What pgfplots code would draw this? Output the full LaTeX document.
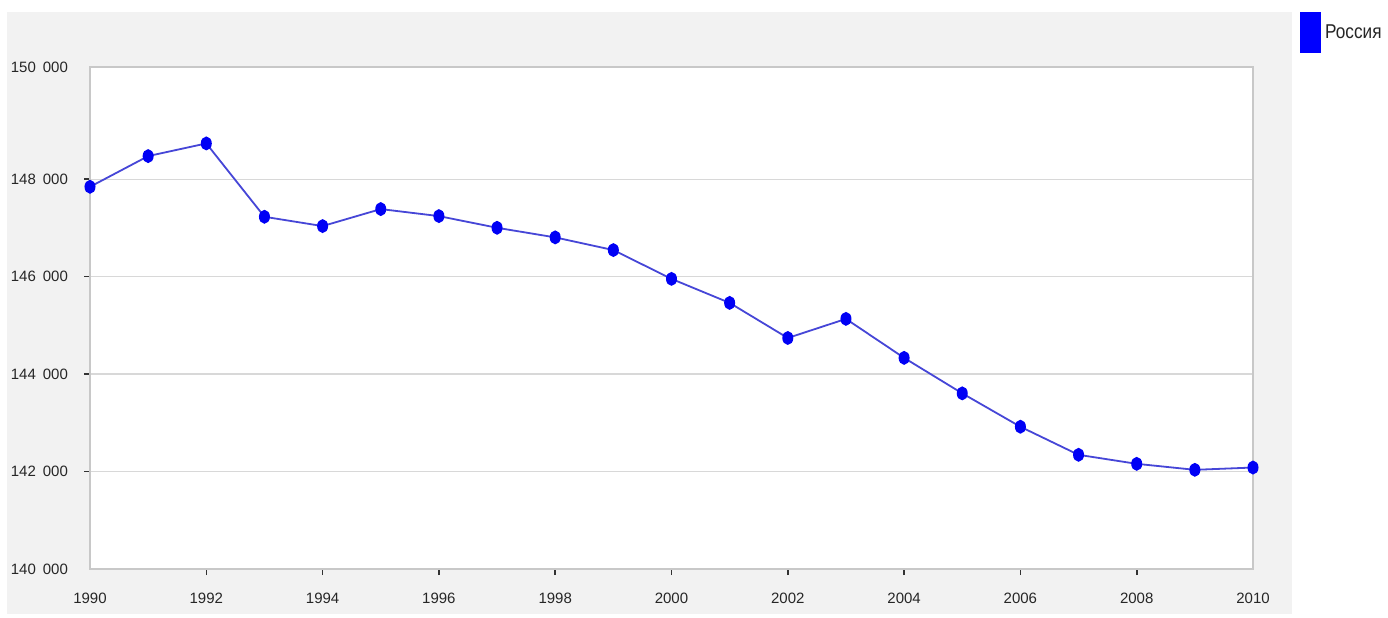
\documentclass[border=0pt]{standalone}
\usepackage{fontspec}
\setmainfont{Liberation Sans}
\usepackage{graphicx}
\usepackage{pgfplots}
\pgfplotsset{compat=1.18}
\definecolor{bgpanel}{RGB}{242,242,242}
\definecolor{borderc}{RGB}{200,200,200}
\definecolor{gridc}{RGB}{216,216,216}
\definecolor{linec}{RGB}{70,70,215}
\definecolor{markc}{RGB}{0,0,245}
\definecolor{legc}{RGB}{0,0,255}
\begin{document}
\begin{tikzpicture}
\useasboundingbox (0pt,0pt) rectangle (694pt,308.5pt);
\fill[white] (0pt,0pt) rectangle (694pt,308.5pt);
\fill[bgpanel] (3.5pt,1.5pt) rectangle (646pt,302.5pt);
\begin{axis}[
  at={(45pt,24pt)}, anchor=south west,
  scale only axis, width=581.5pt, height=251pt,
  xmin=1990, xmax=2010, ymin=140000, ymax=150300,
  clip=false,
  scaled y ticks=false, scaled x ticks=false,
  xtick pos=bottom, ytick pos=left,
  axis background/.style={fill=white},
  axis line style={borderc, line width=0.6pt},
  ymajorgrids, grid style={gridc, line width=0.6pt},
  tick align=outside, major tick length=3pt,
  tick style={black!80, line width=0.8pt},
  xtick={1992,1994,1996,1998,2000,2002,2004,2006,2008},
  xticklabels={1992,1994,1996,1998,2000,2002,2004,2006,2008},
  extra x ticks={1990,2010},
  extra x tick labels={1990,2010},
  extra x tick style={major tick length=0pt, xticklabel style={yshift=-3pt}},
  ytick={142000,144000,146000,148000},
  yticklabels={142\hspace{3.5pt}000,144\hspace{3.5pt}000,146\hspace{3.5pt}000,148\hspace{3.5pt}000},
  extra y ticks={140000,150300},
  extra y tick labels={140\hspace{3.5pt}000,150\hspace{3.5pt}000},
  extra y tick style={major tick length=0pt, grid=none, yticklabel style={xshift=-3pt}},
  xticklabel style={font=\fontsize{7.5}{9}\selectfont, text=black!85, yshift=-5.5pt},
  yticklabel style={font=\fontsize{7.5}{9}\selectfont, text=black!85, xshift=-4.5pt},
  legend style={at={(1.0404,1.1096)}, anchor=north west, draw=none, fill=none,
    inner sep=0pt, font=\fontsize{10}{12}\selectfont, text=black!85,
    legend cell align=left},
  legend image code/.code={\fill[legc] (0pt,-9.75pt) rectangle (9.5pt,9.75pt);},
]
\addplot[color=linec, line width=0.9pt, mark=*, mark size=2.3pt,
  mark options={fill=markc, draw=markc, yscale=1.3}] coordinates {
(1990,147842) (1991,148472) (1992,148732) (1993,147227) (1994,147036)
(1995,147385) (1996,147241) (1997,147001) (1998,146804) (1999,146544)
(2000,145953) (2001,145460) (2002,144740) (2003,145132) (2004,144332)
(2005,143604) (2006,142919) (2007,142343) (2008,142158) (2009,142035)
(2010,142082)};
\addlegendentry{\scalebox{0.86}[1]{Россия}}
\end{axis}
\end{tikzpicture}
\end{document}
